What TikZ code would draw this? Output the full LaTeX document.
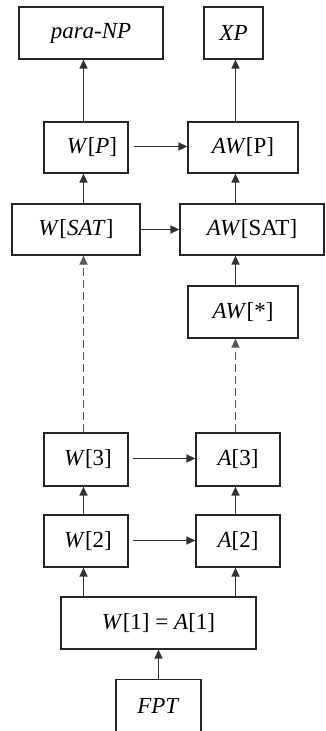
\documentclass[tikz,border=0pt]{standalone}
\usepackage{fontspec}
\setmainfont{Liberation Serif}
\usetikzlibrary{arrows.meta}
\begin{document}
\begin{tikzpicture}[x=1pt,y=-1pt,
  box/.style={draw=black!85,line width=1.2pt,rectangle,inner sep=0pt,
    font=\fontsize{23}{27}\selectfont},
  conn/.style={draw=black!80,line width=1.3pt,-{Triangle[length=9pt,width=8pt]}},
  dconn/.style={conn,draw=black!65,dash pattern=on 8pt off 4pt}]
\useasboundingbox (0,0) rectangle (325,731);
\fill[white] (0,0) rectangle (325,731);
\begin{scope}
\clip (0,0) rectangle (325,731);
\node[box,minimum width=144pt,minimum height=52pt] (paraNP) at (91,33) {\textit{para-NP}};
\node[box,minimum width=59pt,minimum height=52pt] (XP) at (233.5,33) {\textit{XP}};
\node[box,minimum width=84pt,minimum height=51pt] (WP) at (86,147.5) {\hspace{12pt}\textit{W}[\textit{P}]};
\node[box,minimum width=110pt,minimum height=51pt] (AWP) at (243,147.5) {\textit{AW}[P]};
\node[box,minimum width=128pt,minimum height=51pt] (WSAT) at (76,229.5) {\textit{W}[\textit{SAT}]};
\node[box,minimum width=144pt,minimum height=51pt] (AWSAT) at (252,229.5) {\textit{AW}[SAT]};
\node[box,minimum width=110pt,minimum height=52pt] (AWstar) at (243,312) {\textit{AW}[*]};
\node[box,minimum width=84pt,minimum height=53pt] (W3) at (86,459.5) {\hspace{4pt}\textit{W}[3]};
\node[box,minimum width=84pt,minimum height=53pt] (A3) at (238,459.5) {\textit{A}[3]};
\node[box,minimum width=84pt,minimum height=52pt] (W2) at (86,541) {\hspace{4pt}\textit{W}[2]};
\node[box,minimum width=84pt,minimum height=52pt] (A2) at (238,541) {\textit{A}[2]};
\node[box,minimum width=195pt,minimum height=52pt] (W1) at (158.5,623) {\textit{W}[1] = \textit{A}[1]};
\node[box,minimum width=85pt,minimum height=70pt,anchor=north] (FPT) at (158.5,679) {};
\node[font=\fontsize{23}{27}\selectfont] (FPTt) at (158.5,706) {\textit{FPT}};
\end{scope}
\coordinate (cL) at (83.5,0);
\coordinate (cR) at (235.5,0);
% left column
\draw[conn] (WP.north -| cL) -- (paraNP.south -| cL);
\draw[conn] (WSAT.north -| cL) -- (WP.south -| cL);
\draw[dconn] (W3.north -| cL) -- (WSAT.south -| cL);
\draw[conn] (W2.north -| cL) -- (W3.south -| cL);
\draw[conn] (W1.north -| cL) -- (W2.south -| cL);
% right column
\draw[conn] (AWP.north -| cR) -- (XP.south -| cR);
\draw[conn] (AWSAT.north -| cR) -- (AWP.south -| cR);
\draw[conn] (AWstar.north -| cR) -- (AWSAT.south -| cR);
\draw[dconn] (A3.north -| cR) -- (AWstar.south -| cR);
\draw[conn] (A2.north -| cR) -- (A3.south -| cR);
\draw[conn] (W1.north -| cR) -- (A2.south -| cR);
% bottom
\draw[conn] (FPT.north) -- (W1.south);
% horizontal
\draw[conn,shorten <=5pt] (WP.east |- 0,146.5) -- (AWP.west |- 0,146.5);
\draw[conn] (WSAT.east |- 0,229.5) -- (AWSAT.west |- 0,229.5);
\draw[conn,shorten <=4pt] (W3.east |- 0,458.5) -- (A3.west |- 0,458.5);
\draw[conn,shorten <=4pt] (W2.east |- 0,540.5) -- (A2.west |- 0,540.5);
\end{tikzpicture}
\end{document}
